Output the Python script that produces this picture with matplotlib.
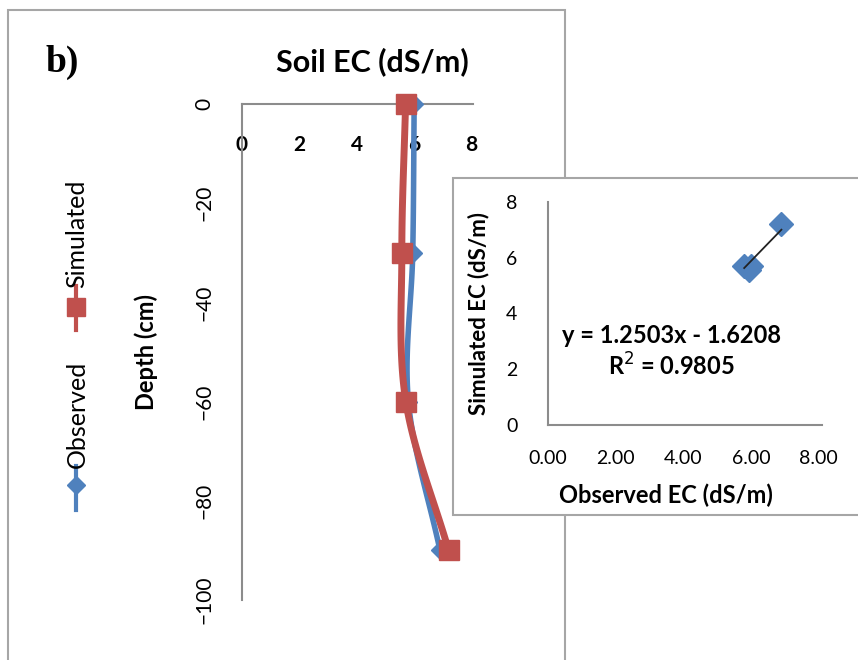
import numpy as np
import matplotlib
matplotlib.use("Agg")
import matplotlib.pyplot as plt
from matplotlib.patches import Rectangle
from matplotlib.lines import Line2D

# data
depth = [0, -30, -60, -90]
observed = [6.0, 5.95, 5.8, 6.9]
simulated = [5.7, 5.57, 5.71, 7.2]
x_ticks = [0, 2, 4, 6, 8]
y_ticks = [0, -20, -40, -60, -80, -100]
inset_ticks_x = [0, 2, 4, 6, 8]
inset_ticks_y = [0, 2, 4, 6, 8]
fit_slope = 1.2503
fit_icept = -1.6208
fit_r2 = 0.9805

BLUE = "#4F81BD"
RED = "#C0504D"
GREY = "#8C8C8C"
FONT = "Lato"


def smooth(xs, ys, n=30):
    # catmull-rom curve through the points (like excel smoothed line)
    p = np.column_stack([xs, ys]).astype(float)
    p = np.vstack([2 * p[0] - p[1], p, 2 * p[-1] - p[-2]])
    out = []
    t = np.linspace(0, 1, n)[:, None]
    for i in range(1, len(p) - 2):
        p0, p1, p2, p3 = p[i - 1], p[i], p[i + 1], p[i + 2]
        seg = 0.5 * ((2 * p1) + (-p0 + p2) * t + (2 * p0 - 5 * p1 + 4 * p2 - p3) * t ** 2
                     + (-p0 + 3 * p1 - 3 * p2 + p3) * t ** 3)
        out.append(seg)
    out = np.vstack(out)
    return out[:, 0], out[:, 1]


W, H = 858, 660
fig = plt.figure(figsize=(W / 100, H / 100), dpi=100)

def fx(px):
    return px / W

def fy(py):
    return 1 - py / H

# outer border of the chart area
fig.add_artist(Rectangle((fx(8), -0.05), fx(565) - fx(8), fy(10) + 0.05,
                         fill=False, ec="#A6A6A6", lw=1.5, zorder=-5))

# main profile chart
ax = fig.add_axes([fx(242), fy(600), fx(473) - fx(242), fy(104) - fy(600)])
ax.patch.set_alpha(0)
ax.set_xlim(0, 8.05)
ax.set_ylim(-100, 0)
for s in ["right", "bottom"]:
    ax.spines[s].set_visible(False)
for s in ["left", "top"]:
    ax.spines[s].set_color(GREY)
    ax.spines[s].set_linewidth(1.5)
ax.set_xticks(x_ticks)
ax.set_yticks(y_ticks)
ax.tick_params(axis="x", top=True, labeltop=True, bottom=False, labelbottom=False,
               length=0, pad=-37)
ax.tick_params(axis="y", length=0, pad=20)
for lab in ax.get_xticklabels():
    lab.set_fontfamily(FONT)
    lab.set_fontweight("bold")
    lab.set_fontsize(15)
for lab in ax.get_yticklabels():
    lab.set_fontfamily(FONT)
    lab.set_fontsize(15)
    lab.set_rotation(90)
    lab.set_va("center")
ax.set_ylabel("Depth (cm)", fontfamily=FONT, fontweight="bold", fontsize=17, labelpad=26)

bx, by = smooth(observed, depth)
ax.plot(bx, by, color=BLUE, lw=4, clip_on=False, zorder=3, solid_capstyle="butt")
ax.plot(observed, depth, ls="none", marker="D", ms=9, color=BLUE, clip_on=False, zorder=3)
rx, ry = smooth(simulated, depth)
ax.plot(rx, ry, color=RED, lw=5, clip_on=False, zorder=4, solid_capstyle="butt")
ax.plot(simulated, depth, ls="none", marker="s", ms=15, color=RED, clip_on=False, zorder=4)

fig.text(fx(372), fy(62), "Soil EC (dS/m)", ha="center", va="center",
         fontfamily=FONT, fontweight="bold", fontsize=22)
fig.text(fx(62), fy(62), "b)", ha="center", va="center",
         fontfamily="Liberation Serif", fontweight="bold", fontsize=27)

# vertical legend, drawn by hand
fig.add_artist(Line2D([fx(76), fx(76)], [fy(510), fy(466)], color=BLUE, lw=3))
fig.add_artist(Line2D([fx(76)], [fy(485)], ls="none", marker="D", ms=9, color=BLUE))
fig.text(fx(77), fy(468), "Observed", rotation=90, ha="center", va="bottom",
         fontfamily=FONT, fontsize=18)
fig.add_artist(Line2D([fx(76), fx(76)], [fy(330), fy(286)], color=RED, lw=3))
fig.add_artist(Line2D([fx(76)], [fy(307)], ls="none", marker="s", ms=13, color=RED))
fig.text(fx(77), fy(288), "Simulated", rotation=90, ha="center", va="bottom",
         fontfamily=FONT, fontsize=18)

# inset box
fig.add_artist(Rectangle((fx(453), fy(515)), 1.0, fy(178) - fy(515),
                         fc="white", ec="#A6A6A6", lw=1.5, zorder=1))

ix = fig.add_axes([fx(548), fy(425), fx(822) - fx(548), fy(202) - fy(425)], zorder=2)
ix.patch.set_alpha(0)
ix.set_xlim(0, 8.1)
ix.set_ylim(0, 8)
for s in ["right", "top"]:
    ix.spines[s].set_visible(False)
for s in ["left", "bottom"]:
    ix.spines[s].set_color(GREY)
    ix.spines[s].set_linewidth(1.5)
ix.set_xticks(inset_ticks_x)
ix.set_xticklabels([f"{v:.2f}" for v in inset_ticks_x])
ix.set_yticks(inset_ticks_y)
ix.tick_params(axis="x", length=0, pad=18, labelsize=14)
ix.tick_params(axis="y", length=0, pad=22, labelsize=14)
for lab in ix.get_xticklabels() + ix.get_yticklabels():
    lab.set_fontfamily(FONT)
ix.set_xlabel("Observed EC (dS/m)", fontfamily=FONT, fontweight="bold", fontsize=17, labelpad=12)
ix.xaxis.label.set_x(0.43)
ix.set_ylabel("Simulated EC (dS/m)", fontfamily=FONT, fontweight="bold", fontsize=16, labelpad=12)

ix.plot(observed, simulated, ls="none", marker="D", ms=12, color=BLUE, zorder=3)
tx = np.array([min(observed), max(observed)])
ix.plot(tx, fit_slope * tx + fit_icept, color="#222222", lw=1.3, zorder=4)
ix.text(0.45, 0.40, f"y = {fit_slope:.4f}x - {abs(fit_icept):.4f}", transform=ix.transAxes,
        ha="center", va="center", fontfamily=FONT, fontweight="bold", fontsize=17)
ix.text(0.45, 0.265, f"R$^2$ = {fit_r2:.4f}", transform=ix.transAxes,
        ha="center", va="center", fontfamily=FONT, fontweight="bold", fontsize=17)

fig.savefig("out.png", dpi=100)
